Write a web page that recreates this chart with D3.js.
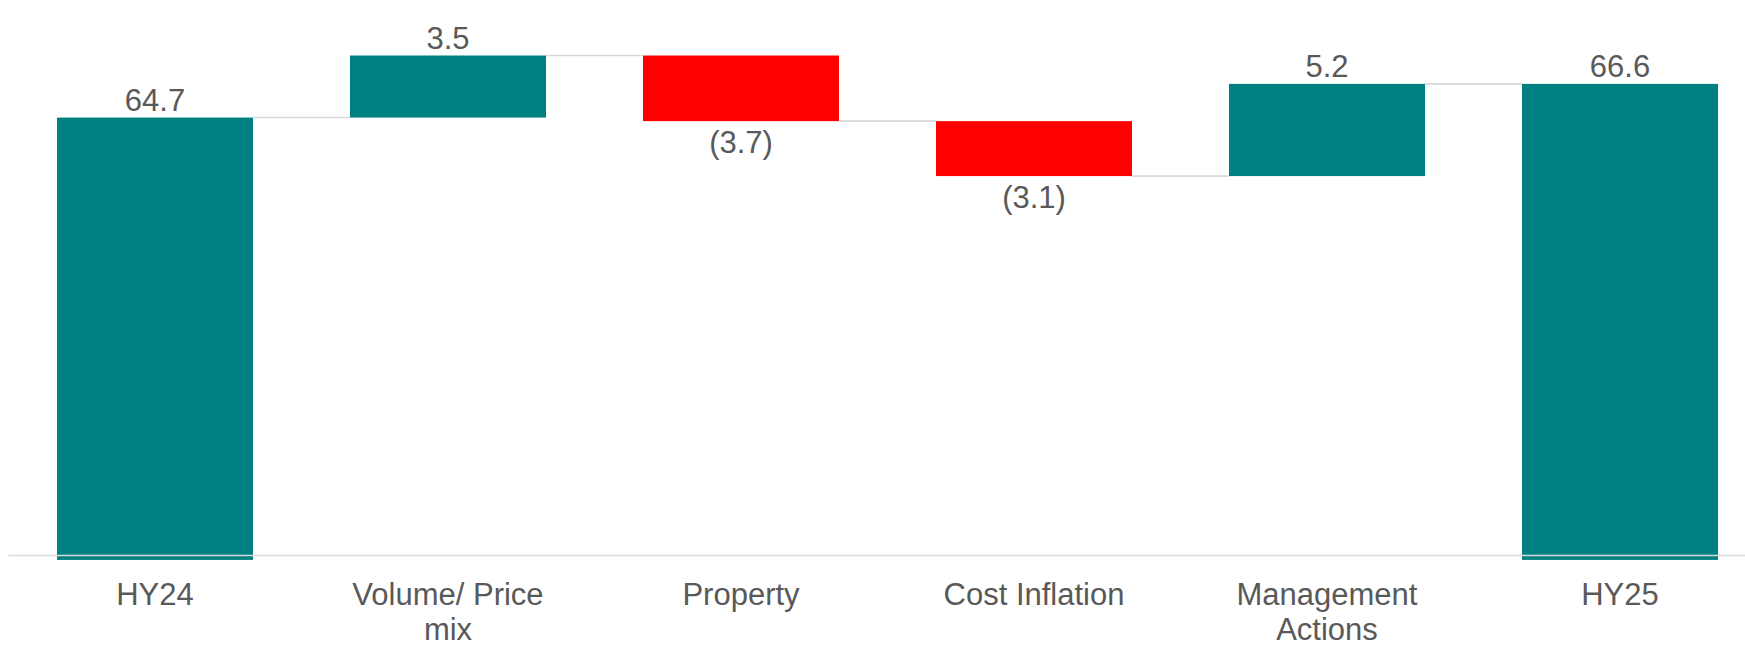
<!DOCTYPE html>
<html>
  <head>
    <meta charset="utf-8" />
    <title>HY24 to HY25 bridge</title>
    <style>
      body {
        margin: 0;
        background: #ffffff;
      }
      text {
        font-family: Arial, "Liberation Sans", sans-serif;
        fill: #595959;
      }
    </style>
  </head>
  <body>
    <svg id="chart" width="1745" height="648"></svg>
    <script src="https://d3js.org/d3.v7.min.js"></script>
    <script>
      // data
      const categories = [
        "HY24",
        "Volume/ Price mix",
        "Property",
        "Cost Inflation",
        "Management Actions",
        "HY25",
      ];
      const values = [64.7, 3.5, -3.7, -3.1, 5.2, 66.6];
      const isTotal = [true, false, false, false, false, true];

      const teal = "#008080",
        red = "#ff0000",
        gridGrey = "#d9d9d9";

      const width = 1745,
        height = 648;
      const axisMin = 40; // value axis does not start at zero
      const barFloor = 39.75; // bars run a little past the axis line

      // build start / end for each step of the waterfall
      let running = 0;
      const steps = categories.map(function (c, i) {
        let start, end;
        if (isTotal[i]) {
          start = barFloor;
          end = values[i];
          running = values[i];
        } else {
          start = running;
          end = running + values[i];
          running = end;
        }
        return { name: c, value: values[i], total: isTotal[i], start: start, end: end };
      });

      const svg = d3.select("#chart");

      const xScale = d3
        .scaleBand()
        .domain(categories)
        .range([8.5, 1766.5])
        .paddingInner(0.331)
        .paddingOuter(0.1655);

      const yScale = d3
        .scaleLinear()
        .domain([axisMin, 70])
        .range([555.5, 555.5 - 30 * 17.73]);

      // connectors between bars
      svg
        .append("g")
        .selectAll("line")
        .data(steps.slice(0, -1))
        .join("line")
        .attr("x1", (d) => xScale(d.name) + xScale.bandwidth())
        .attr("x2", (d, i) => xScale(steps[i + 1].name))
        .attr("y1", (d) => yScale(d.end))
        .attr("y2", (d) => yScale(d.end))
        .attr("stroke", gridGrey)
        .attr("stroke-width", 1.6);

      // bars
      svg
        .append("g")
        .selectAll("rect")
        .data(steps)
        .join("rect")
        .attr("x", (d) => xScale(d.name))
        .attr("width", xScale.bandwidth())
        .attr("y", (d) => yScale(Math.max(d.start, d.end)))
        .attr("height", (d) => Math.abs(yScale(d.start) - yScale(d.end)))
        .attr("fill", (d) => (d.value < 0 ? red : teal));

      // category axis line, drawn over the bars
      svg
        .append("line")
        .attr("x1", 8.5)
        .attr("x2", width)
        .attr("y1", yScale(axisMin))
        .attr("y2", yScale(axisMin))
        .attr("stroke", gridGrey)
        .attr("stroke-width", 1.6);

      // value labels
      const fmt = d3.format(".1f");
      svg
        .append("g")
        .selectAll("text")
        .data(steps)
        .join("text")
        .attr("x", (d) => xScale(d.name) + xScale.bandwidth() / 2)
        .attr("y", (d) =>
          d.value < 0
            ? yScale(Math.min(d.start, d.end)) + 32
            : yScale(Math.max(d.start, d.end)) - 7
        )
        .attr("text-anchor", "middle")
        .style("font-size", "31px")
        .text((d) => (d.value < 0 ? "(" + fmt(-d.value) + ")" : fmt(d.value)));

      // category labels, wrapped to the bar width
      const catLabels = svg
        .append("g")
        .selectAll("text")
        .data(categories)
        .join("text")
        .attr("x", (d) => xScale(d) + xScale.bandwidth() / 2)
        .attr("y", 605)
        .attr("text-anchor", "middle")
        .style("font-size", "31px");

      catLabels.each(function (d) {
        const el = d3.select(this);
        const x = el.attr("x");
        const words = d.split(" ");
        let line = [];
        let tspan = el.append("tspan").attr("x", x).attr("dy", 0);
        words.forEach(function (w) {
          line.push(w);
          tspan.text(line.join(" "));
          if (tspan.node().getComputedTextLength() > xScale.bandwidth() + 10 && line.length > 1) {
            line.pop();
            tspan.text(line.join(" "));
            line = [w];
            tspan = el.append("tspan").attr("x", x).attr("dy", 35).text(w);
          }
        });
      });
    </script>
  </body>
</html>
